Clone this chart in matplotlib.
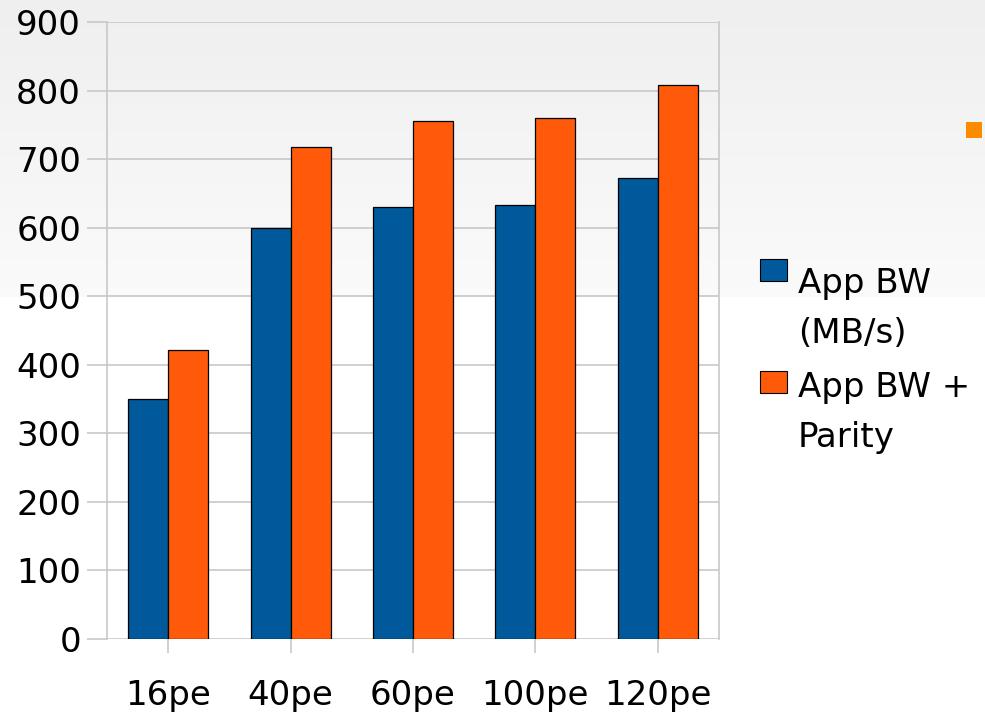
import numpy as np
import matplotlib
matplotlib.use('Agg')
import matplotlib.pyplot as plt
from matplotlib.patches import Rectangle

categories = ['16pe', '40pe', '60pe', '100pe', '120pe']
app_bw = [350, 600, 630, 633, 672]
app_bw_parity = [421, 718, 756, 760, 808]
legend_lines = [['App BW', '(MB/s)'], ['App BW +', 'Parity']]

blue = '#00599a'
orange = '#ff5a0a'
grid_col = '#c8c8c8'
fs = 24.5

plt.rcParams['font.family'] = 'DejaVu Sans'

W, H = 985, 714
fig = plt.figure(figsize=(W / 100, H / 100), dpi=100)

def fx(px):
    return px / W

def fy(py):
    return 1 - py / H

# slide background: light grey fading to white in the upper part
bg = fig.add_axes([0, 0, 1, 1], zorder=-10)
shade = np.ones(H)
top_band = 297
shade[:top_band] = np.linspace(0.937, 0.982, top_band)
bg.imshow(np.tile(shade[:, None, None], (1, 10, 3)), aspect='auto',
          extent=[0, 1, 0, 1], interpolation='bilinear')
bg.axis('off')

# small orange bullet at the right edge
bg.add_patch(Rectangle((fx(966), fy(138)), fx(16), 16 / H,
                       transform=fig.transFigure, color='#fb8c00', lw=0))

ax = fig.add_axes([fx(107), fy(639), fx(719 - 107), (639 - 22) / H])
ax.patch.set_alpha(0)

x = np.arange(len(categories))
w = 0.327
ax.bar(x - w / 2, app_bw, w, color=blue, edgecolor='black', linewidth=0.9, zorder=3)
ax.bar(x + w / 2, app_bw_parity, w, color=orange, edgecolor='black', linewidth=0.9, zorder=3)

ax.set_xlim(-0.5, len(categories) - 0.5)
ax.set_ylim(0, 900)
ax.set_yticks(range(0, 901, 100))
ax.set_xticks(x)
ax.set_xticklabels(categories)

ax.yaxis.grid(True, color=grid_col, linewidth=1.2, zorder=0)
for side in ['left', 'right']:
    ax.spines[side].set_color(grid_col)
    ax.spines[side].set_linewidth(1.2)
ax.spines['top'].set_visible(False)
ax.spines['bottom'].set_visible(False)

ax.tick_params(axis='y', length=14.4, width=1.2, color=grid_col, pad=4.3,
               labelsize=fs, labelcolor='black')
ax.tick_params(axis='x', length=10, width=1.2, color=grid_col, pad=19,
               labelsize=fs, labelcolor='black')

# legend on the right, square swatches next to two-line labels
swatch_tops = [259, 371]
baselines = [[293, 343], [397, 447]]
for top, col, lines, bases in zip(swatch_tops, [blue, orange], legend_lines, baselines):
    fig.patches.append(Rectangle((fx(760), fy(top + 22)), fx(27), 22 / H,
                                 transform=fig.transFigure, facecolor=col,
                                 edgecolor='black', linewidth=0.8))
    for line, b in zip(lines, bases):
        fig.text(fx(798), fy(b), line, fontsize=fs, va='baseline', ha='left')

fig.savefig('out.png', dpi=100)
